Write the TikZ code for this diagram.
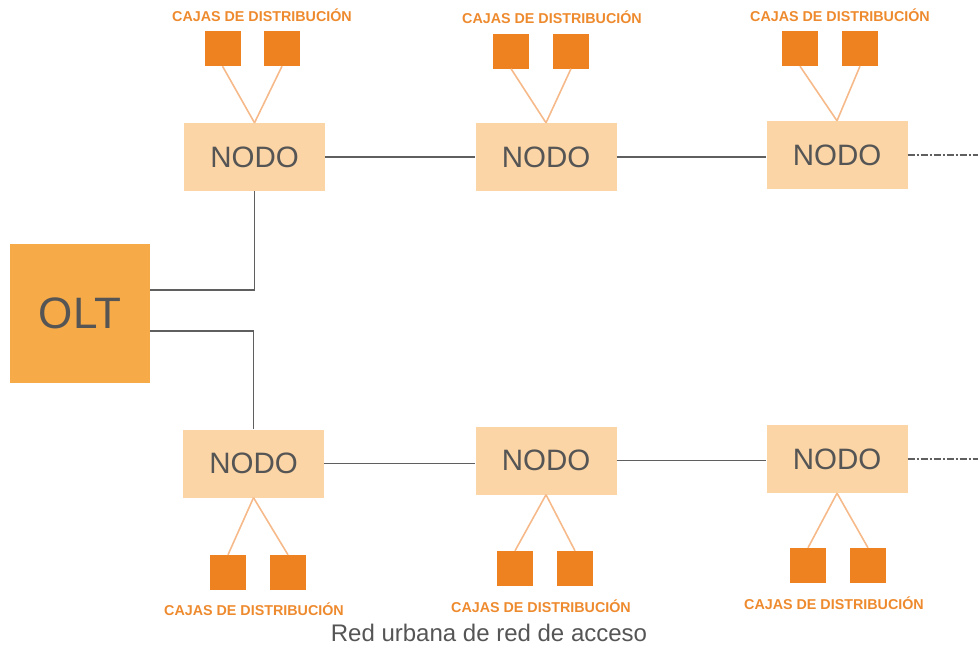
\documentclass[tikz,border=0pt]{standalone}
\usepackage{fontspec}
\setmainfont{Liberation Sans}
\definecolor{oltfill}{HTML}{F7AA48}
\definecolor{nodefill}{HTML}{FBD5A5}
\definecolor{boxfill}{HTML}{EE8220}
\definecolor{labelcol}{HTML}{EE8A2E}
\definecolor{linegray}{HTML}{5F5F5F}
\definecolor{textgray}{HTML}{555555}
\definecolor{orline}{HTML}{F6B98A}
\begin{document}
\begin{tikzpicture}[x=1pt,y=-1pt,
  oltbox/.style={fill=oltfill,draw=none,minimum width=140pt,minimum height=139pt,inner sep=0pt,text=textgray,font=\fontsize{44}{44}\selectfont},
  nodobox/.style={fill=nodefill,draw=none,minimum width=141pt,minimum height=68pt,inner sep=0pt,text=textgray,font=\fontsize{29.5}{29.5}\selectfont},
  caja/.style={fill=boxfill,draw=none,minimum width=36pt,minimum height=35pt,inner sep=0pt},
  cajalabel/.style={text=labelcol,inner sep=0pt,font=\fontsize{14.3}{15}\selectfont\bfseries},
  trunk/.style={draw=linegray,line width=1.9pt},
  drop/.style={draw=orline,line width=1.6pt},
  tail/.style={draw=linegray,line width=1.5pt,dash pattern=on 7pt off 2pt on 2pt off 2pt},
  caption/.style={text=textgray,inner sep=0pt,font=\fontsize{24}{25}\selectfont}]
\useasboundingbox (0,0) rectangle (978,648);
% OLT
\node[oltbox] (OLT) at (80,313.5) {OLT};
% nodes
\node[nodobox] (N1) at (254.5,157) {NODO};
\node[nodobox] (N2) at (546,157) {NODO};
\node[nodobox] (N3) at (837,155) {NODO};
\node[nodobox] (N4) at (253.5,463.5) {NODO};
\node[nodobox] (N5) at (546,460.5) {NODO};
\node[nodobox] (N6) at (837,459) {NODO};
% cajas top
\node[caja] (t1a) at (222.5,48.5) {};
\node[caja] (t1b) at (282,48.5) {};
\node[caja] (t2a) at (511,51) {};
\node[caja] (t2b) at (571,51) {};
\node[caja] (t3a) at (800,48.5) {};
\node[caja] (t3b) at (860,48.5) {};
% cajas bottom
\node[caja] (b1a) at (228,572.5) {};
\node[caja] (b1b) at (288,572.5) {};
\node[caja] (b2a) at (515,568.5) {};
\node[caja] (b2b) at (575,568.5) {};
\node[caja] (b3a) at (808,565.5) {};
\node[caja] (b3b) at (868,565.5) {};
% labels
\node[cajalabel] (l1) at (262,15) {CAJAS DE DISTRIBUCIÓN};
\node[cajalabel] (l2) at (552,17) {CAJAS DE DISTRIBUCIÓN};
\node[cajalabel] (l3) at (840,15) {CAJAS DE DISTRIBUCIÓN};
\node[cajalabel] (l4) at (254,609) {CAJAS DE DISTRIBUCIÓN};
\node[cajalabel] (l5) at (541,606) {CAJAS DE DISTRIBUCIÓN};
\node[cajalabel] (l6) at (834,603) {CAJAS DE DISTRIBUCIÓN};
\node[caption] (cap) at (489,633) {Red urbana de red de acceso};
% drops
\draw[drop] (t1a.south) -- (N1.north);
\draw[drop] (t1b.south) -- (N1.north);
\draw[drop] (t2a.south) -- (N2.north);
\draw[drop] (t2b.south) -- (N2.north);
\draw[drop] (t3a.south) -- (N3.north);
\draw[drop] (t3b.south) -- (N3.north);
\draw[drop] (N4.south) -- (b1a.north);
\draw[drop] (N4.south) -- (b1b.north);
\draw[drop] (N5.south) -- (b2a.north);
\draw[drop] (N5.south) -- (b2b.north);
\draw[drop] (N6.south) -- (b3a.north);
\draw[drop] (N6.south) -- (b3b.north);
% trunks
\coordinate (o1) at (150,290);
\coordinate (o2) at (150,331);
\draw[trunk] (o1) -| (N1.south);
\draw[trunk] (o2) -| (N4.north);
\draw[trunk] (N1.east) -- (N2.west);
\draw[trunk] (N2.east) -- (N3.west |- N2.east);
\draw[trunk] (N4.east) -- (N5.west |- N4.east);
\draw[trunk] (N5.east) -- (N6.west |- N5.east);
\coordinate (e3) at (978,155);
\coordinate (e6) at (978,459);
\draw[tail] (N3.east) -- (e3);
\draw[tail] (N6.east) -- (e6);
\end{tikzpicture}
\end{document}
